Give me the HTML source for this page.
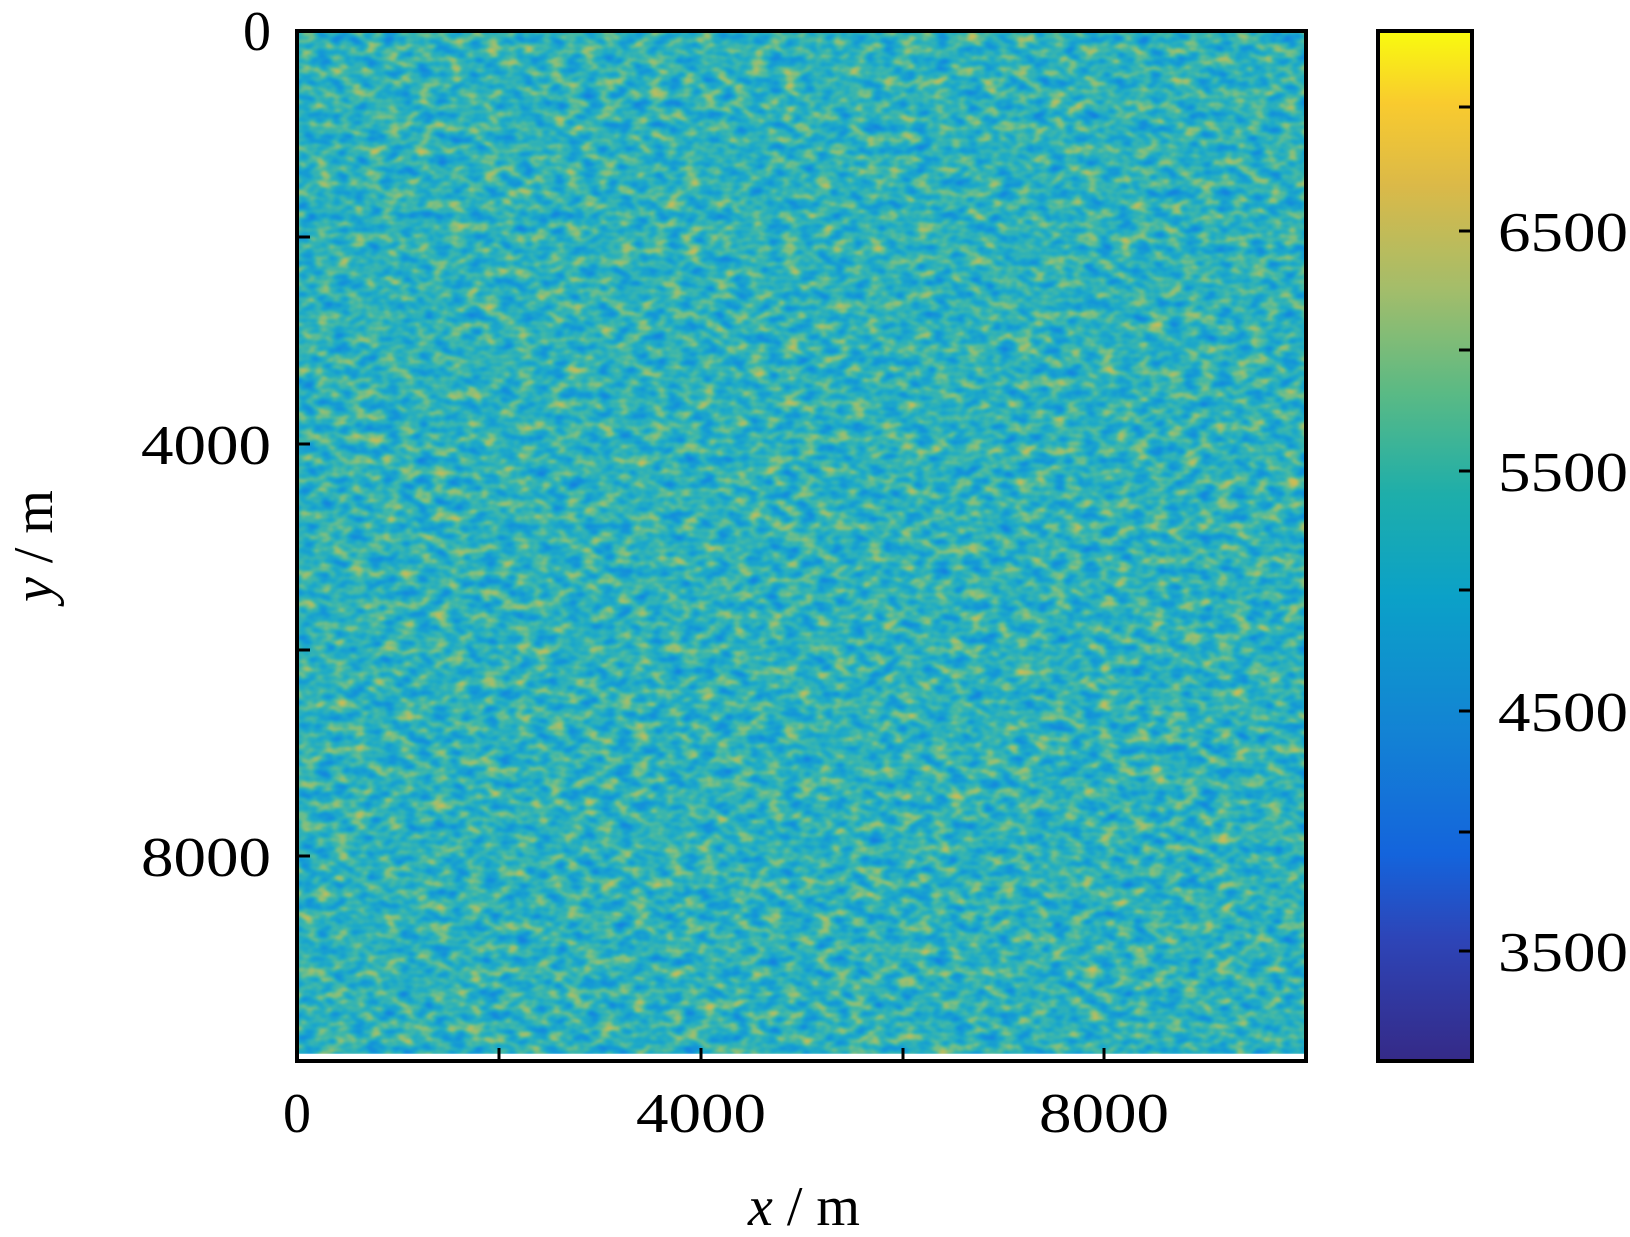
<!DOCTYPE html>
<html><head><meta charset="utf-8"><style>html,body{margin:0;padding:0;background:#fff}svg{display:block}</style></head>
<body>
<svg width="1630" height="1237" viewBox="0 0 1630 1237" xmlns="http://www.w3.org/2000/svg" font-family="'Liberation Serif', serif" font-size="56">
<defs>
<filter id="n" x="0" y="0" width="100%" height="100%" color-interpolation-filters="sRGB">
<feTurbulence type="fractalNoise" baseFrequency="0.06 0.09" numOctaves="2" seed="7"/>
<feColorMatrix type="matrix" values="1 0 0 0 0  1 0 0 0 0  1 0 0 0 0  0 0 0 0 1"/>
<feComponentTransfer>
<feFuncR type="table" tableValues="0.08 0.08 0.08 0.12 0.25 0.5 0.75 0.88"/>
<feFuncG type="table" tableValues="0.47 0.53 0.6 0.67 0.72 0.75 0.74 0.73"/>
<feFuncB type="table" tableValues="0.88 0.87 0.84 0.78 0.66 0.5 0.37 0.28"/>
</feComponentTransfer>
<feGaussianBlur stdDeviation="0.8"/>
</filter>
<linearGradient id="cb" x1="0" y1="1" x2="0" y2="0">
<stop offset="0" stop-color="#352a87"/>
<stop offset="0.12" stop-color="#2d45b8"/>
<stop offset="0.2" stop-color="#1464dc"/>
<stop offset="0.32" stop-color="#1383d4"/>
<stop offset="0.45" stop-color="#0ba1c8"/>
<stop offset="0.55" stop-color="#1eaeaa"/>
<stop offset="0.65" stop-color="#5bba84"/>
<stop offset="0.75" stop-color="#a4bd6a"/>
<stop offset="0.85" stop-color="#dbb948"/>
<stop offset="0.93" stop-color="#f9cb2e"/>
<stop offset="1" stop-color="#f9fb0e"/>
</linearGradient>
</defs>
<rect x="297" y="31" width="1009" height="1023" filter="url(#n)"/>
<rect x="297" y="31" width="1009" height="1030" fill="none" stroke="#000" stroke-width="4"/>
<g stroke="#000" stroke-width="3">
<line x1="297" y1="237" x2="310" y2="237"/><line x1="297" y1="444" x2="310" y2="444"/><line x1="297" y1="650" x2="310" y2="650"/><line x1="297" y1="856" x2="310" y2="856"/>
<line x1="499" y1="1061" x2="499" y2="1048"/><line x1="701" y1="1061" x2="701" y2="1048"/><line x1="903" y1="1061" x2="903" y2="1048"/><line x1="1104" y1="1061" x2="1104" y2="1048"/>
</g>
<g text-anchor="end">
<text x="271" y="50">0</text><text x="271" y="464" textLength="130" lengthAdjust="spacingAndGlyphs">4000</text><text x="271" y="876" textLength="130" lengthAdjust="spacingAndGlyphs">8000</text>
</g>
<g text-anchor="middle">
<text x="297" y="1132">0</text><text x="701" y="1132" textLength="130" lengthAdjust="spacingAndGlyphs">4000</text><text x="1104" y="1132" textLength="130" lengthAdjust="spacingAndGlyphs">8000</text>
<text x="804" y="1225"><tspan font-style="italic">x</tspan> / m</text>
</g>
<text transform="translate(52,546) rotate(-90)" text-anchor="middle"><tspan font-style="italic">y</tspan> / m</text>
<rect x="1378" y="31" width="94" height="1030" fill="url(#cb)" stroke="#000" stroke-width="4"/>
<g stroke="#000" stroke-width="3">
<line x1="1459" y1="107" x2="1472" y2="107"/><line x1="1459" y1="231" x2="1472" y2="231"/><line x1="1459" y1="350" x2="1472" y2="350"/><line x1="1459" y1="471" x2="1472" y2="471"/><line x1="1459" y1="590" x2="1472" y2="590"/><line x1="1459" y1="711" x2="1472" y2="711"/><line x1="1459" y1="832" x2="1472" y2="832"/><line x1="1459" y1="951" x2="1472" y2="951"/>
</g>
<text x="1498" y="251" textLength="130" lengthAdjust="spacingAndGlyphs">6500</text><text x="1498" y="491" textLength="130" lengthAdjust="spacingAndGlyphs">5500</text><text x="1498" y="731" textLength="130" lengthAdjust="spacingAndGlyphs">4500</text><text x="1498" y="971" textLength="130" lengthAdjust="spacingAndGlyphs">3500</text>
</svg>
</body></html>
